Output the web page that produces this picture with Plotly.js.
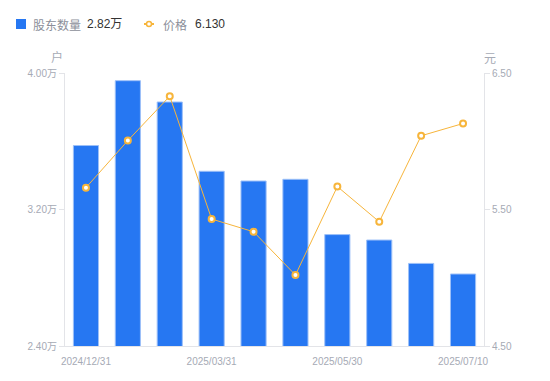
<!DOCTYPE html>
<html>
<head>
<meta charset="utf-8">
<script src="https://cdn.plot.ly/plotly-3.0.1.min.js"></script>
<style>html,body{margin:0;padding:0;background:#fff;}#chart{width:550px;height:381px;}</style>
</head>
<body>
<div id="chart"></div>
<script>
// Data
var periodIndex = [0, 1, 2, 3, 4, 5, 6, 7, 8, 9];
var holders = [3.575, 3.955, 3.830, 3.424, 3.367, 3.377, 3.053, 3.021, 2.884, 2.822]; // 万户
var price = [5.66, 6.005, 6.33, 5.43, 5.337, 5.02, 5.668, 5.41, 6.04, 6.13]; // 元
var tickLabels = ['2024/12/31', '2025/03/31', '2025/05/30', '2025/07/10'];
var tickPositions = [0, 3, 6, 9];
var leftTicks = [2.4, 3.2, 4.0];
var rightTicks = [4.5, 5.5, 6.5];
var seriesNames = ['股东数量', '价格'];

var font = 'Liberation Sans, Arial, Noto Sans CJK SC, sans-serif';
var cjk = 'Noto Sans CJK SC, sans-serif';
var tickColor = '#A6AAB5';
var axisLine = '#E3E4E8';

var traces = [
  {
    type: 'bar', x: periodIndex, y: holders, name: seriesNames[0],
    width: 0.6,
    marker: {color: '#2677F2', line: {color: '#9DC0F8', width: 1}},
    yaxis: 'y', hoverinfo: 'skip'
  },
  {
    type: 'scatter', mode: 'lines+markers', x: periodIndex, y: price, name: seriesNames[1],
    line: {color: '#F7B53B', width: 1},
    marker: {symbol: 'circle', size: 6, color: '#FFFFFF', line: {color: '#F7B53B', width: 2}},
    yaxis: 'y2', hoverinfo: 'skip'
  }
];

var layout = {
  width: 550, height: 381,
  margin: {l: 65, r: 66, t: 73, b: 35},
  paper_bgcolor: '#FFFFFF', plot_bgcolor: '#FFFFFF',
  showlegend: false,
  font: {family: font, size: 10, color: tickColor},
  xaxis: {
    type: 'linear', range: [-0.5, 9.5],
    tickvals: tickPositions, ticktext: tickLabels,
    showgrid: false, zeroline: false,
    showline: true, linecolor: axisLine, linewidth: 1,
    ticks: '', ticklabelstandoff: 6,
    tickfont: {size: 10, color: tickColor, family: font},
    fixedrange: true
  },
  yaxis: {
    range: [leftTicks[0], leftTicks[2]],
    tickvals: leftTicks, ticktext: leftTicks.map(function(v){return v.toFixed(2) + '万';}),
    showgrid: false, zeroline: false,
    showline: true, linecolor: axisLine, linewidth: 1,
    ticks: 'outside', ticklen: 5, tickcolor: axisLine,
    tickfont: {size: 10, color: tickColor, family: font}
  },
  yaxis2: {
    overlaying: 'y', side: 'right',
    range: [rightTicks[0], rightTicks[2]],
    tickvals: rightTicks, ticktext: rightTicks.map(function(v){return v.toFixed(2);}),
    showgrid: false, zeroline: false,
    showline: true, linecolor: axisLine, linewidth: 1,
    ticks: 'outside', ticklen: 5, tickcolor: axisLine,
    tickfont: {size: 10, color: tickColor, family: font}
  },
  shapes: [
    {type: 'rect', xref: 'paper', yref: 'paper', xsizemode: 'pixel', ysizemode: 'pixel',
     xanchor: 0, yanchor: 1, x0: -49, x1: -39, y0: 44, y1: 54,
     fillcolor: '#2677F2', line: {width: 0}},
    {type: 'line', xref: 'paper', yref: 'paper', xsizemode: 'pixel', ysizemode: 'pixel',
     xanchor: 0, yanchor: 1, x0: 79, x1: 89, y0: 49, y1: 49,
     line: {color: '#F7B53B', width: 2}},
    {type: 'circle', xref: 'paper', yref: 'paper', xsizemode: 'pixel', ysizemode: 'pixel',
     xanchor: 0, yanchor: 1, x0: 81.5, x1: 86.5, y0: 46.5, y1: 51.5,
     fillcolor: '#FFFFFF', line: {color: '#F7B53B', width: 1.5}}
  ],
  annotations: [
    {xref: 'paper', yref: 'paper', x: -0.081, y: 1, yshift: 49, xanchor: 'left', yanchor: 'middle',
     showarrow: false, font: {family: cjk, size: 12, color: '#8C8F9A'},
     text: seriesNames[0]},
    {xref: 'paper', yref: 'paper', x: 0.048, y: 1, yshift: 49, xanchor: 'left', yanchor: 'middle',
     showarrow: false, font: {family: font, size: 12, color: '#333333'},
     text: holders[holders.length - 1].toFixed(2) + '万'},
    {xref: 'paper', yref: 'paper', x: 0.229, y: 1, yshift: 49, xanchor: 'left', yanchor: 'middle',
     showarrow: false, font: {family: cjk, size: 12, color: '#8C8F9A'},
     text: seriesNames[1]},
    {xref: 'paper', yref: 'paper', x: 0.305, y: 1, yshift: 49, xanchor: 'left', yanchor: 'middle',
     showarrow: false, font: {family: font, size: 12, color: '#333333'},
     text: price[price.length - 1].toFixed(3)},
    {xref: 'paper', yref: 'paper', x: 0, xshift: -8, y: 1, yshift: 17, xanchor: 'center', yanchor: 'middle',
     showarrow: false, font: {family: cjk, size: 12, color: tickColor}, text: '户'},
    {xref: 'paper', yref: 'paper', x: 1, xshift: 6, y: 1, yshift: 16, xanchor: 'center', yanchor: 'middle',
     showarrow: false, font: {family: cjk, size: 12, color: tickColor}, text: '元'}
  ]
};

Plotly.newPlot('chart', traces, layout, {staticPlot: true, displayModeBar: false});
</script>
</body>
</html>
